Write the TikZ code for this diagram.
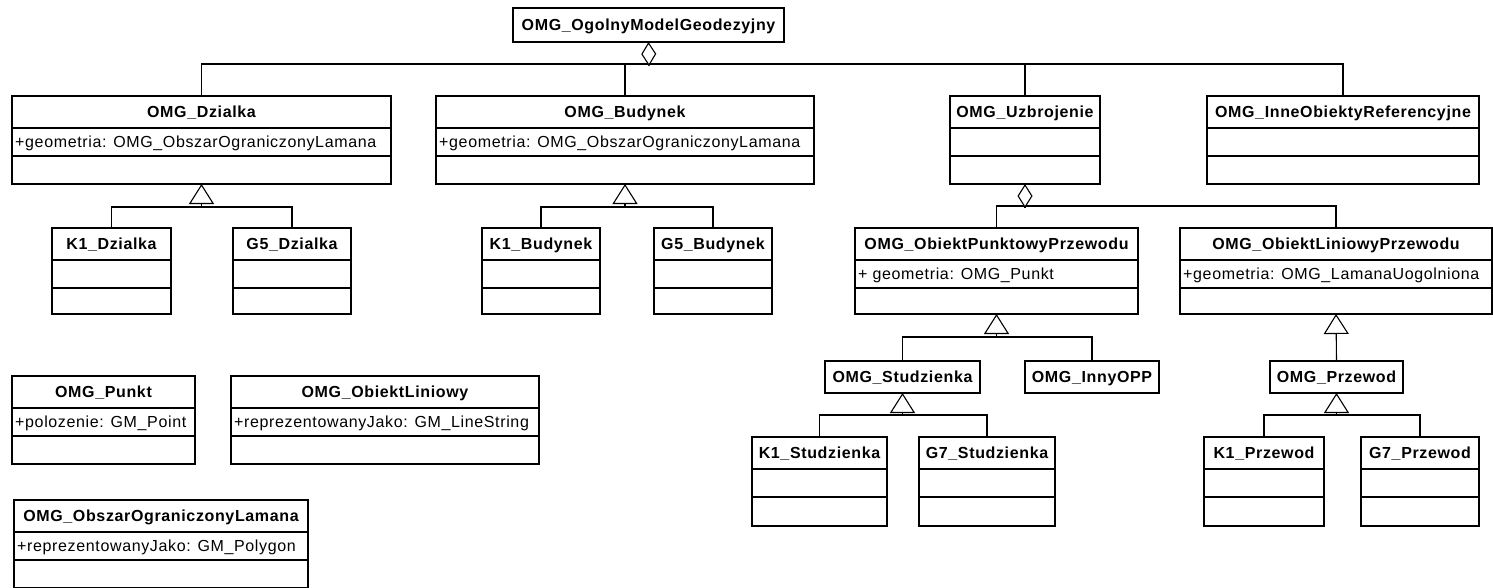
\documentclass[tikz,border=0pt]{standalone}
\usepackage{fontspec}
\setmainfont{Liberation Sans}[LetterSpace=4]
\usetikzlibrary{arrows.meta}

\tikzset{
  x=1pt, y=-1pt,
  conn/.style={line width=1.1pt},
  frame/.style={draw, rectangle, line width=1.1pt, inner sep=0pt, outer sep=0pt},
  titlefont/.style={font=\fontsize{16}{19}\selectfont\bfseries, text height=12pt, text depth=2pt},
  titletext/.style={titlefont, inner sep=0pt},
  attrtext/.style={font=\fontsize{16}{19}\selectfont, inner sep=0pt, text height=12pt, text depth=2pt, anchor=west},
  gen/.style={conn, -{Triangle[length=20pt,width=25pt,fill=white]}},
  aggr/.style={conn, -{Diamond[length=24pt,width=15pt,fill=white]}},
}

% class box with name, attribute and operation compartments:
% id, left, top, right, bottom, name, attribute
\newcommand{\umlclass}[7]{%
  \node[frame, minimum width={(#4-#2)*1pt}, minimum height={(#5-#3)*1pt}] (#1) at ({(#2+#4)/2},{(#3+#5)/2}) {};
  \draw[conn] ([yshift=-32pt]#1.north west) -- ([yshift=-32pt]#1.north east);
  \draw[conn] ([yshift=-60pt]#1.north west) -- ([yshift=-60pt]#1.north east);
  \node[titletext] (#1-t) at ([yshift=-16pt]#1.north) {#6};
  \node[attrtext] (#1-a) at ([yshift=-46pt,xshift=3pt]#1.north west) {#7};
}
% class box with a name only: id, left, top, right, bottom, name
\newcommand{\umlname}[6]{%
  \node[frame, titlefont, minimum width={(#4-#2)*1pt}, minimum height={(#5-#3)*1pt}] (#1) at ({(#2+#4)/2},{(#3+#5)/2}) {#6};
}

\begin{document}
\begin{tikzpicture}
\useasboundingbox (0,0) rectangle (1493,587);

% classes
\umlname{ogm}{513}{8}{784}{42}{OMG\_OgolnyModelGeodezyjny}
\umlclass{dz}{12}{96}{391}{184}{OMG\_Dzialka}{+geometria: OMG\_ObszarOgraniczonyLamana}
\umlclass{bud}{436}{96}{814}{184}{OMG\_Budynek}{+geometria: OMG\_ObszarOgraniczonyLamana}
\umlclass{uzb}{950}{96}{1100}{184}{OMG\_Uzbrojenie}{}
\umlclass{ior}{1207}{96}{1479}{184}{OMG\_InneObiektyReferencyjne}{}
\umlclass{k1dz}{52}{228}{171}{314}{K1\_Dzialka}{}
\umlclass{g5dz}{233}{228}{351}{314}{G5\_Dzialka}{}
\umlclass{k1bu}{482}{228}{600}{314}{K1\_Budynek}{}
\umlclass{g5bu}{654}{228}{772}{314}{G5\_Budynek}{}
\umlclass{opp}{855}{228}{1138}{314}{OMG\_ObiektPunktowyPrzewodu}{+ geometria: OMG\_Punkt}
\umlclass{olp}{1180}{228}{1492}{314}{OMG\_ObiektLiniowyPrzewodu}{+geometria: OMG\_LamanaUogolniona}
\umlname{stu}{825}{361}{980}{393}{OMG\_Studzienka}
\umlname{inny}{1025}{361}{1159}{393}{OMG\_InnyOPP}
\umlname{prz}{1270}{361}{1403}{393}{OMG\_Przewod}
\umlclass{k1st}{752}{437}{887}{526}{K1\_Studzienka}{}
\umlclass{g7st}{919}{437}{1055}{526}{G7\_Studzienka}{}
\umlclass{k1pr}{1204}{437}{1324}{526}{K1\_Przewod}{}
\umlclass{g7pr}{1361}{437}{1479}{526}{G7\_Przewod}{}
\umlclass{pkt}{12}{376}{195}{464}{OMG\_Punkt}{+polozenie: GM\_Point}
\umlclass{olin}{231}{376}{539}{464}{OMG\_ObiektLiniowy}{+reprezentowanyJako: GM\_LineString}
\umlclass{ool}{14}{500}{308}{588}{OMG\_ObszarOgraniczonyLamana}{+reprezentowanyJako: GM\_Polygon}

% aggregation under the general model
\coordinate (a0) at (649,66);
\coordinate (b0) at (649,64);
\draw[conn] (dz.north) |- (b0) -| (ior.north);
\draw[conn] (bud.north) -- (bud.north |- b0);
\draw[conn] (uzb.north) -- (uzb.north |- b0);
\draw[aggr] (a0) -- (ogm.south);

% parcels
\path (dz.south) ++(0,23) coordinate (gdz);
\draw[conn] (k1dz.north) |- (gdz) -| (g5dz.north);
\draw[gen] (gdz) -- (dz.south);

% buildings
\path (bud.south) ++(0,23) coordinate (gbu);
\draw[conn] (k1bu.north) |- (gbu) -| (g5bu.north);
\draw[gen] (gbu) -- (bud.south);

% utilities aggregation
\path (uzb.south) ++(0,24) coordinate (auz);
\path (uzb.south) ++(0,22) coordinate (buz);
\draw[conn] (opp.north) |- (buz) -| (olp.north);
\draw[aggr] (auz) -- (uzb.south);

% point objects of the network
\path (opp.south) ++(0,23) coordinate (gop);
\draw[conn] (stu.north) |- (gop) -| (inny.north);
\draw[gen] (gop) -- (opp.south);

% line objects of the network
\draw[gen] (prz.north) -- (olp.south);

% manholes
\path (stu.south) ++(0,22) coordinate (gst);
\draw[conn] (k1st.north) |- (gst) -| (g7st.north);
\draw[gen] (gst) -- (stu.south);

% conduits
\path (prz.south) ++(0,22) coordinate (gpr);
\draw[conn] (k1pr.north) |- (gpr) -| (g7pr.north);
\draw[gen] (gpr) -- (prz.south);
\end{tikzpicture}
\end{document}
